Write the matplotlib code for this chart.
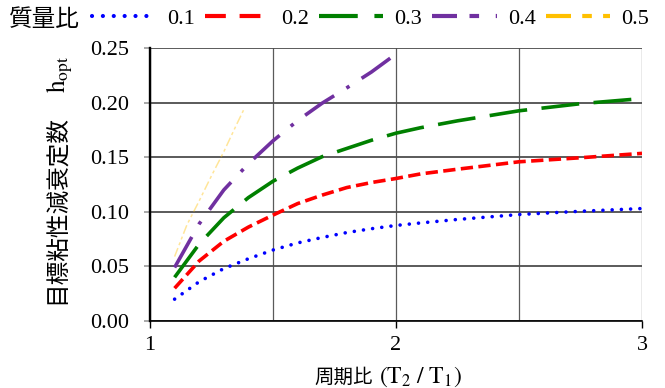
import matplotlib
matplotlib.use("Agg")
import matplotlib.pyplot as plt
from matplotlib.lines import Line2D

plt.rcParams['mathtext.fontset'] = 'stix'

# ---- data ----
x_01 = [1.1, 1.2, 1.3, 1.4, 1.5, 1.6, 1.7, 1.8, 1.9, 2.0, 2.1, 2.25, 2.5, 2.75, 3.0]
y_01 = [0.020, 0.036, 0.048, 0.057, 0.065, 0.0715, 0.0765, 0.081, 0.0845, 0.0875, 0.0898, 0.093, 0.0975, 0.1005, 0.1030]
x_02 = [1.1, 1.2, 1.3, 1.4, 1.5, 1.6, 1.7, 1.8, 1.9, 2.0, 2.1, 2.25, 2.5, 2.75, 3.0]
y_02 = [0.030, 0.055, 0.073, 0.086, 0.097, 0.1075, 0.1153, 0.1222, 0.1268, 0.1305, 0.1347, 0.1390, 0.1458, 0.1495, 0.1535]
x_03 = [1.1, 1.2, 1.3, 1.4, 1.5, 1.6, 1.7, 1.8, 1.9, 2.0, 2.1, 2.25, 2.5, 2.75, 3.0]
y_03 = [0.040, 0.0705, 0.0945, 0.113, 0.128, 0.140, 0.1505, 0.158, 0.1655, 0.172, 0.177, 0.1833, 0.1925, 0.199, 0.2037]
x_04 = [1.1, 1.2, 1.3, 1.4, 1.5, 1.6, 1.7, 1.8, 1.9, 2.0]
y_04 = [0.049, 0.089, 0.120, 0.144, 0.165, 0.1835, 0.1995, 0.2135, 0.228, 0.2445]
x_05 = [1.1, 1.15, 1.2, 1.25, 1.3, 1.35, 1.38]
y_05 = [0.059, 0.088, 0.110, 0.133, 0.155, 0.179, 0.193]

series_labels = ['0.1', '0.2', '0.3', '0.4', '0.5']
colors = ['#0000FF', '#FF0000', '#008000', '#7030A0', '#FFC000']
x_ticks = [1, 2, 3]
y_ticks = [0.00, 0.05, 0.10, 0.15, 0.20, 0.25]

W, H = 665, 388
fig = plt.figure(figsize=(W/100, H/100), dpi=100)
ax = fig.add_axes([150/W, 1-321/H, (642-150)/W, (321-48)/H])

lw = 2.6
ax.plot(x_01, y_01, color=colors[0], lw=lw, dashes=(0.01, 2.55), dash_capstyle='round', zorder=3)
ax.plot(x_02, y_02, color=colors[1], lw=lw, dashes=(3.4, 1.5), zorder=3)
ax.plot(x_03, y_03, color=colors[2], lw=lw, dashes=(10.5, 4.0), zorder=3)
ax.plot(x_04, y_04, color=colors[3], lw=lw, dashes=(9.7, 4.0, 1.0, 4.0), zorder=3)
ax.plot(x_05, y_05, color=colors[4], lw=1.1, alpha=0.4, dashes=(6, 2, 2, 2, 2, 2), zorder=3)

ax.set_xlim(1, 3)
ax.set_ylim(0, 0.25)
ax.set_xticks(x_ticks)
ax.set_xticks([1.5, 2.5], minor=True)
ax.set_yticks(y_ticks)
ax.set_xticklabels([str(t) for t in x_ticks], family='Liberation Serif', fontsize=16)
ax.set_yticklabels([f"{t:.2f}" for t in y_ticks], family='Liberation Serif', fontsize=16)

ax.grid(True, axis='y', color='#4d4d4d', lw=1.3, zorder=1)
ax.grid(True, axis='x', which='both', color='#5a5a5a', lw=0.9, zorder=1)
ax.tick_params(axis='x', which='major', direction='out', length=5, width=1, color='black', pad=6)
ax.tick_params(axis='x', which='minor', length=0)
ax.tick_params(axis='y', direction='out', length=4, width=1.2, color='#999999', pad=11)

for s in ['top', 'right']:
    ax.spines[s].set_visible(False)
ax.spines['left'].set_linewidth(1.7)
ax.spines['left'].set_color('black')
ax.spines['bottom'].set_linewidth(1.2)
ax.spines['bottom'].set_color('black')

renderer = fig.canvas.get_renderer()

def px(x, y):
    return x / W, 1 - y / H

# x label: CJK part + Latin part
xl_cjk = fig.text(*px(0, 383), "周期比", family='Noto Sans CJK JP', fontsize=14,
                  ha='left', va='baseline')
xl_lat = fig.text(*px(0, 383), r"$(\mathrm{T}_2\ /\ \mathrm{T}_1)$", fontsize=17,
                  ha='left', va='baseline')
w1 = xl_cjk.get_window_extent(renderer).width
w2 = xl_lat.get_window_extent(renderer).width
gap = 6
total = w1 + gap + w2
x0 = 388 - total / 2
xl_cjk.set_x(x0 / W)
xl_lat.set_x((x0 + w1 + gap) / W)

# y label: CJK part rotated, then h_opt above it
yl_cjk = fig.text(*px(57, 304), "目標粘性減衰定数", family='Noto Sans CJK JP', fontsize=17,
                  rotation=90, ha='center', va='bottom')
h1 = yl_cjk.get_window_extent(renderer).height
yl_h = fig.text(*px(60, 304 - h1 - 22), r"$\mathrm{h}_{\mathrm{opt}}$", fontsize=18,
                rotation=90, ha='center', va='bottom')

# legend
handles = [
    Line2D([], [], color=colors[0], lw=3, dashes=(0.01, 2.6), dash_capstyle='round'),
    Line2D([], [], color=colors[1], lw=3, dashes=(5, 3.3)),
    Line2D([], [], color=colors[2], lw=3, dashes=(9.3, 4)),
    Line2D([], [], color=colors[3], lw=3, dashes=(6, 3, 2.3, 4)),
    Line2D([], [], color=colors[4], lw=3, dashes=(6, 2.7, 2.3, 2.7, 2.3, 2.7)),
]
fig.text(*px(9, 19), "質量比", family='Noto Sans CJK JP', fontsize=17, va='center', ha='left')
leg = fig.legend(handles, series_labels, ncol=5, loc='center left',
                 bbox_to_anchor=px(92, 19), frameon=False,
                 prop={'family': 'Liberation Serif', 'size': 16},
                 handlelength=2.9, handletextpad=0.5, columnspacing=0.45,
                 borderaxespad=0, borderpad=0)

fig.savefig("out.png", dpi=100)
